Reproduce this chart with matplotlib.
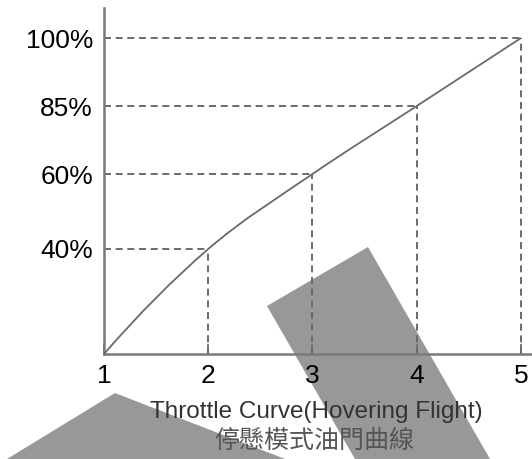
import numpy as np
import matplotlib.pyplot as plt
from matplotlib.patches import Polygon, PathPatch
from matplotlib.path import Path
from matplotlib.transforms import IdentityTransform

# stick position vs throttle output
stick = [1, 2, 3, 4, 5]
throttle = [0, 40, 60, 85, 100]
ytick_vals = [40, 60, 85, 100]
ytick_text = ['40%', '60%', '85%', '100%']
title_en = 'Throttle Curve(Hovering Flight)'
title_zh = '停懸模式油門曲線'

# the printed chart is not to scale, so map each level to where it sits
lvl = [0, 40, 60, 85, 100, 110]
pos = [0, 105, 180, 248, 316, 361]


def fwd(v):
    return np.interp(v, lvl, pos)


def inv(p):
    return np.interp(p, pos, lvl)


W, H = 532, 459
LINE = '#6a6a6a'
FONT = 'Liberation Sans'

fig = plt.figure(figsize=(W / 100, H / 100), dpi=100)
ax = fig.add_axes([104 / W, 1 - 354 / H, 428 / W, 346 / H])
ax.set_facecolor('none')
ax.set_yscale('function', functions=(fwd, inv))
ax.set_xlim(1, 1 + 428 / 104.25)
ax.set_ylim(0, float(inv(346)))

dash = (0, (3.6, 2.4))
for x, y in zip(stick[1:], throttle[1:]):
    ax.plot([1, x], [y, y], ls=dash, color=LINE, lw=1.4)
    ax.plot([x, x], [0, y], ls=dash, color=LINE, lw=1.4)

# smooth curve through the points (cubic hermite in screen space)
p = ax.transData.transform(np.column_stack([stick, throttle]))
n = len(p)
m = np.zeros_like(p)
m[1:-1] = (p[2:] - p[:-2]) / 2
m[0] = 2 * (p[1] - p[0]) - m[1]
m[-1] = 2 * (p[-1] - p[-2]) - m[-2]
verts = [p[0]]
codes = [Path.MOVETO]
for i in range(n - 1):
    verts += [p[i] + m[i] / 3, p[i + 1] - m[i + 1] / 3, p[i + 1]]
    codes += [Path.CURVE4] * 3
fig.add_artist(PathPatch(Path(verts, codes), transform=IdentityTransform(),
                         fill=False, edgecolor=LINE, lw=1.3))

for s in ['top', 'right']:
    ax.spines[s].set_visible(False)
for s in ['left', 'bottom']:
    ax.spines[s].set_color('#7a7a7a')
    ax.spines[s].set_linewidth(1.8)

ax.set_xticks(stick)
ax.set_xticklabels([str(s) for s in stick], fontsize=19, family=FONT)
ax.set_yticks(ytick_vals)
ax.set_yticklabels(ytick_text, fontsize=19, family=FONT)
ax.yaxis.set_minor_locator(plt.NullLocator())
ax.tick_params(axis='x', direction='in', length=7.2, width=1.4,
               color='#7a7a7a', pad=7, labelcolor='black')
ax.tick_params(axis='y', length=0, pad=8, labelcolor='black')

fig.text(316 / W, 1 - 412 / H, title_en, ha='center', va='center',
         fontsize=17.5, color='#333333', family=FONT)
fig.text(314 / W, 1 - 441 / H, title_zh, ha='center', va='center',
         fontsize=18, color='#555555', family=['Noto Sans CJK TC', 'DejaVu Sans'])


# grey blocks lying over the scanned figure
def px(pts):
    return [(x / W, 1 - y / H) for x, y in pts]


for shape in ([(267, 306), (368, 247), (490, 459), (355, 459)],
              [(115, 393), (285, 459), (7, 459)]):
    fig.add_artist(Polygon(px(shape), closed=True, transform=fig.transFigure,
                           facecolor='#989898', edgecolor='none', zorder=-1))

fig.savefig('out.png', dpi=100)
